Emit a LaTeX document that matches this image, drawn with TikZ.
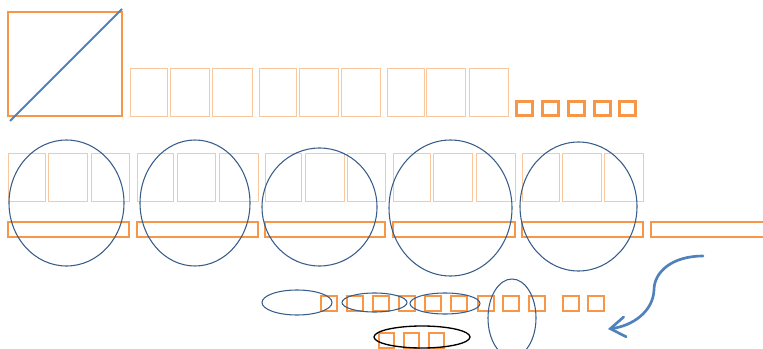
\documentclass[tikz,border=0pt]{standalone}
\usepackage{tikz}
\usetikzlibrary{shapes.geometric,arrows.meta,positioning}
\definecolor{orng}{RGB}{247,150,70}
\definecolor{peach}{RGB}{250,200,158}
\definecolor{navy}{RGB}{56,93,138}
\definecolor{steel}{RGB}{79,129,189}
\def\u{0.75pt}
\tikzset{
  bigbox/.style={draw=orng,line width=1pt,inner sep=0pt,outer sep=0pt},
  lbox/.style={draw=peach,line width=0.65pt,inner sep=0pt,outer sep=0pt,minimum height=48*\u},
  sq/.style={draw=orng,line width=1.9pt,inner sep=0pt,outer sep=0pt,minimum width=15.5*\u,minimum height=13.5*\u},
  bar/.style={draw=orng,line width=1pt,inner sep=0pt,outer sep=0pt,minimum height=15*\u},
  ring/.style={draw=navy,line width=0.8pt,ellipse,inner sep=0pt},
  diag/.style={draw=steel,line width=1.5pt},
  curvy/.style={draw=steel,line width=2pt,line cap=round,-{Straight Barb[length=11pt,width=15pt,line cap=round]}}
}
\begin{document}
\begin{tikzpicture}[x=0.75pt,y=-0.75pt]
\useasboundingbox (0,0) rectangle (763,349);
\node[bigbox,minimum width=114*\u,minimum height=104*\u] (big) at (65,64) {};
\foreach \x/\w [count=\n] in {130/37,170/39,212/40,259/37,299/39,341/39,387/37,426/39,469/39}
  \node[lbox,minimum width=\w*\u] (t\n) at (\x+\w/2,92) {};
\foreach \x [count=\n] in {516,542,568,594,619}
  \node[sq] (s\n) at (\x+8.5,108.5) {};
\foreach \x/\w [count=\n] in {8/37,48/39,91/38,137/36,177/38,219/39,265/36,305/39,347/38,393/37,433/39,476/39,522/37,562/39,604/39}
  \node[lbox,minimum width=\w*\u] (m\n) at (\x+\w/2,177) {};
\foreach \x/\w [count=\n] in {8/121,137/121,265/120,393/122,522/121,651/122}
  \node[bar,minimum width=\w*\u] (b\n) at (\x+\w/2,229.5) {};
\foreach \x [count=\n] in {320,346,372,398,424,450,477,502,528,562,587}
  \node[sq,minimum width=16*\u,minimum height=15*\u] (q\n) at (\x+9,303.5) {};
\foreach \x [count=\n] in {378,403,428}
  \node[sq,minimum width=15*\u,minimum height=15*\u] (r\n) at (\x+8.5,340.5) {};
\foreach \cx/\cy/\rx/\ry [count=\n] in {66.5/203/57.5/63,195/203/55/63,319.5/207/57.5/59,450.5/208/61.5/68,578.5/206.5/58.5/64.5}
  \node[ring,minimum width=2*\rx*\u,minimum height=2*\ry*\u] (e\n) at (\cx,\cy) {};
\node[ring,minimum width=70*\u,minimum height=25*\u] (f1) at (297,302.5) {};
\node[ring,minimum width=65*\u,minimum height=19*\u] (f2) at (374.5,302.5) {};
\node[ring,minimum width=70*\u,minimum height=21*\u] (f3) at (445,303.5) {};
\node[ring,minimum width=48*\u,minimum height=78*\u] (f4) at (512,318) {};
\node[ring,draw=black,line width=1pt,minimum width=96*\u,minimum height=22*\u] (f5) at (422,337) {};
\coordinate (d1) at (10,121);
\coordinate (d2) at (122,9);
\draw[diag] (d1) -- (d2);
\coordinate (a1) at (703,256);
\coordinate (a2) at (608,329);
\draw[curvy] (a1) .. controls (672,256) and (654,272) .. (654,290) .. controls (653,312) and (632,326) .. (a2);
\end{tikzpicture}
\end{document}
